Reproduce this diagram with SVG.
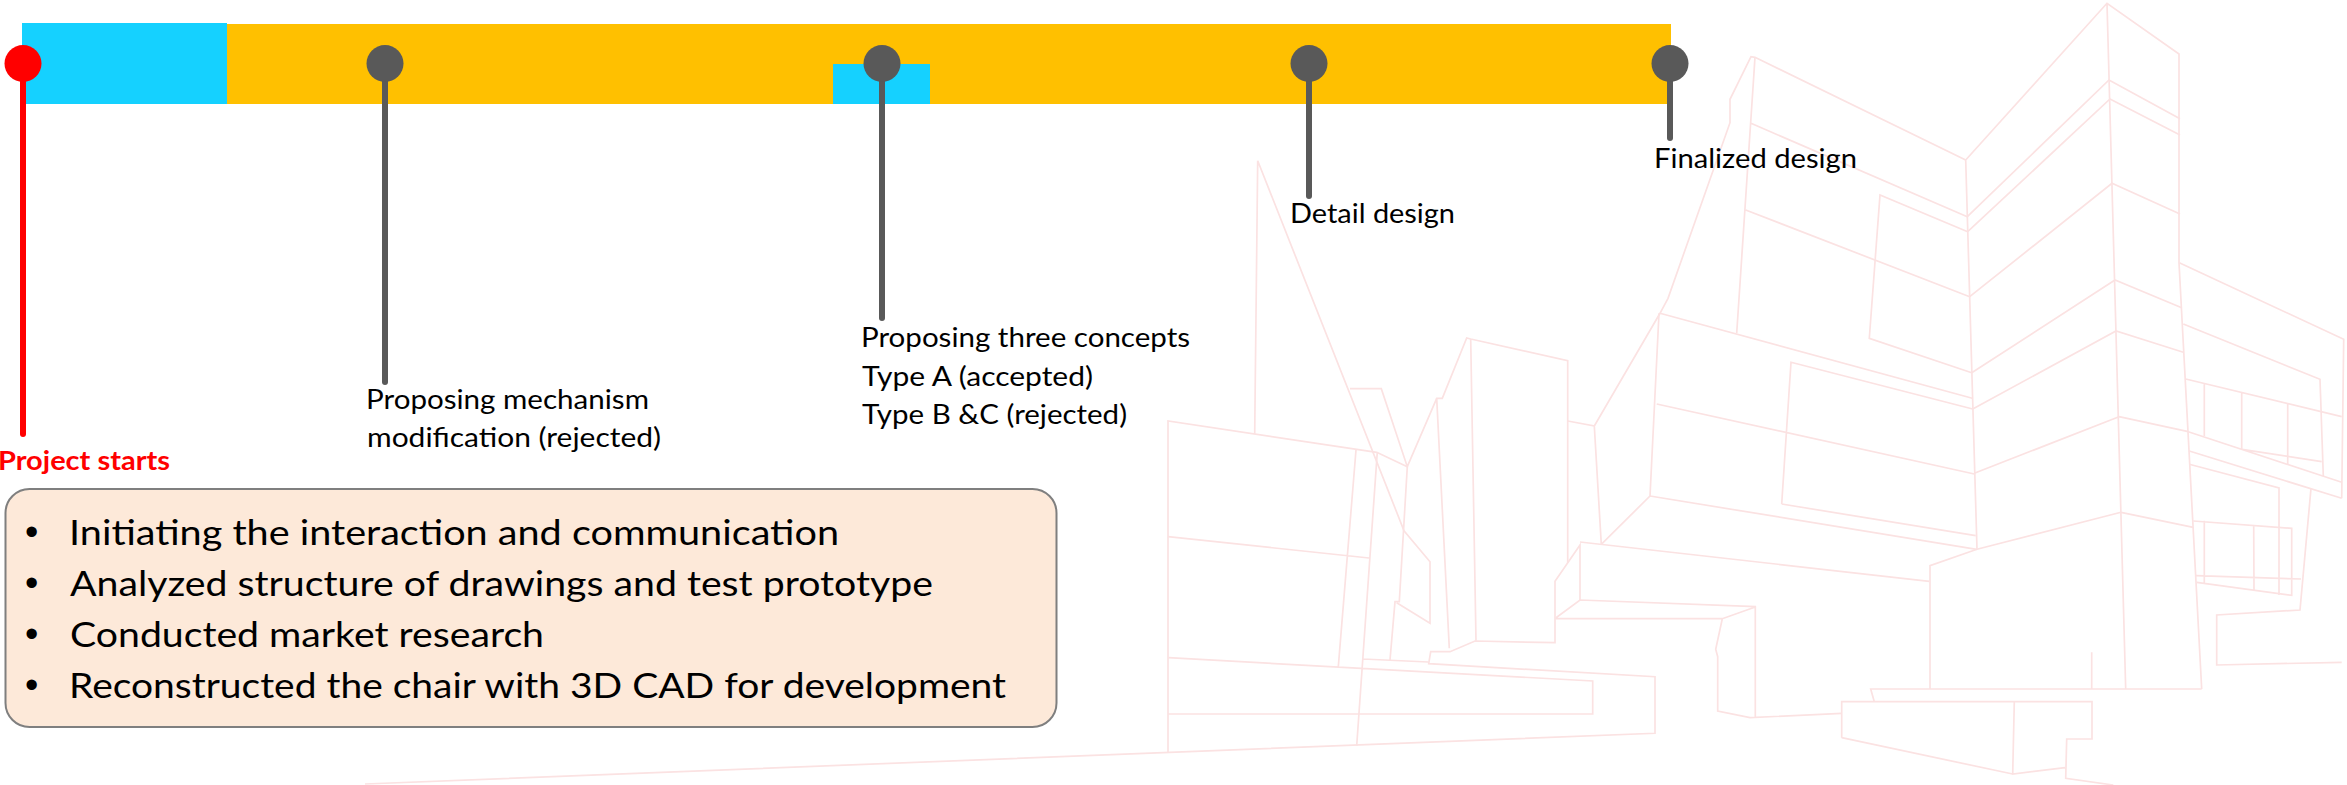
<svg xmlns="http://www.w3.org/2000/svg" width="2347" height="785" viewBox="0 0 2347 785">
<style>
.b{fill:none;stroke:#fbe2e2;stroke-width:1.7;stroke-linejoin:miter}
.s{stroke:#595959;stroke-width:6;stroke-linecap:round;fill:none}
.d{fill:#595959}
.t{font-family:Lato,"Open Sans","Noto Sans","Liberation Sans",sans-serif;font-size:27px;fill:#000}
.l{font-family:Lato,"Open Sans","Noto Sans","Liberation Sans",sans-serif;font-size:34px;fill:#000}
.o{font-family:"Liberation Sans",sans-serif;font-size:38px;fill:#000}
</style>
<rect width="2347" height="785" fill="#fff"/>
<g id="building" class="b">
<path d="M1254.7 434L1257.7 160.7L1404 530.7L1430 561.7V623.3L1396.7 602.7"/>
<path d="M1168 752.3V421L1376.7 452.3L1407.3 466.7L1399.3 601.7H1395L1390 660"/>
<path d="M1350 388.7H1381.3L1407.3 466.7L1436.7 398.3H1442.3L1466.7 338L1470.7 339L1567.7 360.7V562.7"/>
<path d="M1436.7 398.3L1449.3 648.3M1470.7 339L1476 640.7"/>
<path d="M1567.7 421L1594.3 426L1601.3 544.3M1594.3 426L1660 313.3L1668 298.3L1730 122.7V99.3L1751 56.7L1755 57.3L1965.7 160"/>
<path d="M1755 57.3L1736.7 333.3M1751 123.3L1967.3 216.7M1745.7 210L1969.7 296.7"/>
<path d="M1967.7 231.7L1880 195L1869.3 338.3L1971.7 372.7"/>
<path d="M1660 313.3L1972.3 398.3M1659 313.3L1650 496L1601.3 544.3M1650 496L1976.7 549.3"/>
<path d="M1781.7 504L1975.7 535.7M1781.7 504L1791 362.3L1972.7 409M1656.7 404L1974.3 474"/>
<path d="M1965.7 160L1977 549.3M1965.7 160L2107 3.3L2179 54V262.7L2201.7 689M2107 3.3L2125.7 689"/>
<path d="M1967.3 216.7L2109 80L2180 118.7M1967.7 231.7L2110 99L2180 135M1969.7 296.7L2112 183.3L2180 214"/>
<path d="M1971.7 372.7L2115 280L2181.7 307.7M1972.7 409L2116 331L2183.3 352.3"/>
<path d="M2179.3 262.7L2343.7 339.3L2341.7 498.3M2183.3 324L2320 379.3L2323.3 476"/>
<path d="M2185.7 379L2341.7 416.7M2204.3 384V436M2241.7 392.7V449.3M2287.7 404V464"/>
<path d="M2188.3 431.7L2341.7 482.3M2242 449.3L2321.7 461.7M2189.3 451L2341.7 498.3"/>
<path d="M2189.3 464.3L2279 488V595M2311 488.3L2300 610L2216.7 615V665L2341.7 662.3"/>
<path d="M2193.3 521L2291.7 528.3V595.3L2196.7 582.3M2204.3 520.7V582.7M2253.7 526L2254 590M2196 575.7L2301 579"/>
<path d="M2121 512.3L2193.3 527.3M2119 416.7L2188.3 431.7M2119 416.7L1974.3 473.3M2121 512.3L1977 549.3L1930 565.7V689"/>
<path d="M1580 542L1929.3 581.3M1580 600V545L1555 581.3V642.7L1475 641L1450 651.7H1430.7L1428.7 663.7L1655 676.7V733.3L365 784"/>
<path d="M1168.3 657.7L1592.7 681V714H1168M1168 536.7L1369 558M1356 450L1338.3 666.7M1377.3 452L1356.7 745.7M1362.7 659L1428.3 662"/>
<path d="M1555.7 618L1580 600L1756 606.7L1722.3 618.7H1555.3M1722.3 618.7L1715.7 649.3L1717.7 656.7V711L1750 717.7L1841.7 713.3M1755.3 606.7V717.3"/>
<path d="M1841.7 737.7V701.7H2092V739H2066.7L2065.7 778.3L2113.3 785M2014.3 701.7L2012.7 774L2065 767.7M1841.7 737.7L2012.7 774"/>
<path d="M1874.3 701.7L1870.7 689H2201.7M2091.7 652.3V689"/>
</g>
<g id="timeline-bar">
<rect x="227" y="24" width="1444" height="80" fill="#ffc000"/>
<rect x="22" y="23" width="205" height="81" fill="#15d1ff"/>
<rect x="833" y="64" width="97" height="40" fill="#15d1ff"/>
</g>
<g id="connectors">
<path d="M23 64V434" fill="none" stroke="#ff0000" stroke-width="6" stroke-linecap="round"/>
<path class="s" d="M385 64V382"/>
<path class="s" d="M882 64V318"/>
<path class="s" d="M1309 64V196"/>
<path class="s" d="M1670 64V138"/>
</g>
<g id="node-start">
<circle cx="23" cy="63.5" r="18.5" fill="#ff0000"/>
<text x="-2" y="470" textLength="172" lengthAdjust="spacingAndGlyphs" style="font-family:Lato,'Open Sans','Liberation Sans',sans-serif;font-size:27px;font-weight:700;fill:#ff0000">Project starts</text>
</g>
<g id="node-mechanism">
<circle class="d" cx="385" cy="63.5" r="18.5"/>
<text class="t" x="366" y="409" textLength="283" lengthAdjust="spacingAndGlyphs">Proposing mechanism</text>
<text class="t" x="367" y="447" textLength="294" lengthAdjust="spacingAndGlyphs">modification (rejected)</text>
</g>
<g id="node-concepts">
<circle class="d" cx="882" cy="63.5" r="18.5"/>
<text class="t" x="861" y="347" textLength="329" lengthAdjust="spacingAndGlyphs">Proposing three concepts</text>
<text class="t" x="862" y="386" textLength="231" lengthAdjust="spacingAndGlyphs">Type A (accepted)</text>
<text class="t" x="862" y="424" textLength="265" lengthAdjust="spacingAndGlyphs">Type B &amp;C (rejected)</text>
</g>
<g id="node-detail">
<circle class="d" cx="1309" cy="63.5" r="18.5"/>
<text class="t" x="1290" y="223" textLength="165" lengthAdjust="spacingAndGlyphs">Detail design</text>
</g>
<g id="node-final">
<circle class="d" cx="1670" cy="63.5" r="18.5"/>
<text class="t" x="1654" y="168" textLength="203" lengthAdjust="spacingAndGlyphs">Finalized design</text>
</g>
<g id="summary-box">
<rect x="5.5" y="489" width="1051" height="238" rx="24" fill="#fde9d9" stroke="#7f7f7f" stroke-width="2"/>
<text class="o" x="25" y="545">•</text>
<text class="l" x="69" y="545" textLength="770" lengthAdjust="spacingAndGlyphs">Initiating the interaction and communication</text>
<text class="o" x="25" y="596">•</text>
<text class="l" x="70" y="596" textLength="863" lengthAdjust="spacingAndGlyphs">Analyzed structure of drawings and test prototype</text>
<text class="o" x="25" y="647">•</text>
<text class="l" x="70" y="647" textLength="474" lengthAdjust="spacingAndGlyphs">Conducted market research</text>
<text class="o" x="25" y="698">•</text>
<text class="l" x="69" y="698" textLength="937" lengthAdjust="spacingAndGlyphs">Reconstructed the chair with 3D CAD for development</text>
</g>
</svg>
